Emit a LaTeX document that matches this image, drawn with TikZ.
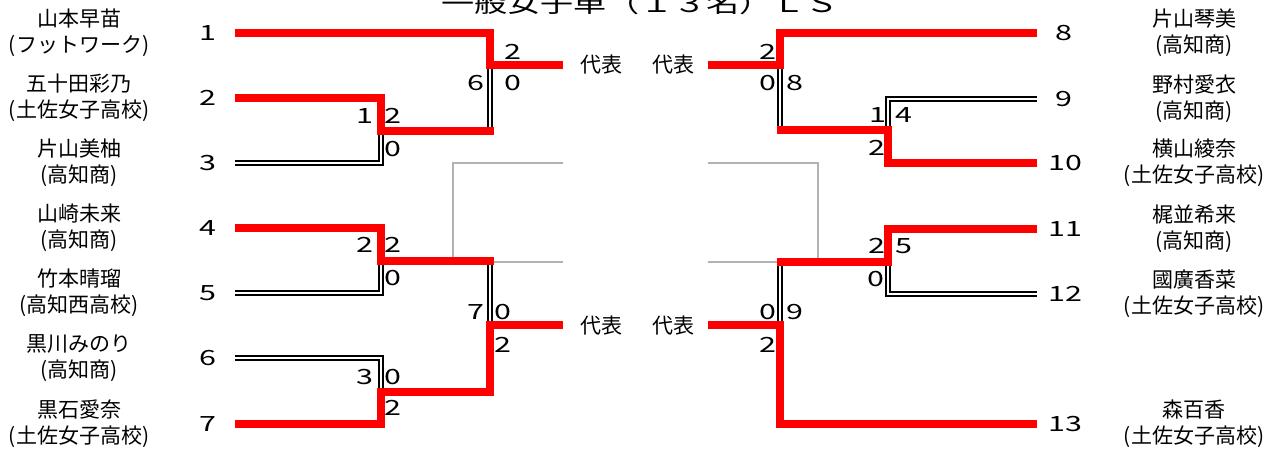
\documentclass[tikz,border=0pt]{standalone}
\usepackage{fontspec}
\setmainfont{Noto Sans CJK JP}
\newfontfamily\numfont[FakeStretch=1.45]{Noto Sans CJK JP}
\newfontfamily\headfont[FakeStretch=1.38]{Noto Sans CJK JP}
\usepackage{tikz}
\usetikzlibrary{positioning}
\newcommand{\namefont}{\fontsize{21}{26}\selectfont}
\newcommand{\scorefont}{\numfont\fontsize{21}{21}\selectfont}
\newcommand{\titlefont}{\headfont\fontsize{24}{24}\selectfont}
\tikzset{
  bk/title/.style={font=\titlefont, inner sep=0pt},
  bk/name/.style={font=\namefont, align=center, inner sep=0pt},
  bk/seed/.style={font=\scorefont, inner sep=0pt},
  bk/score/.style={font=\scorefont, inner sep=0pt},
  bk/rep/.style={font=\namefont, inner sep=0pt},
  bk/win/.style={draw=red, line width=7.5pt, line join=miter},
  bk/lose/.style={draw=black, double=white, line width=2pt, double distance=2.2pt},
  bk/guide/.style={draw=black!30, line width=1.2pt}
}

\begin{document}
\begin{tikzpicture}[x=1pt, y=-1pt]
\fill[white] (0,0) rectangle (1276,453);
\useasboundingbox (0,0) rectangle (1276,453);
\clip (0,0) rectangle (1276,453);

\node[bk/title, anchor=base] (title) at (640,12) {一般女子単（１３名）ＬＳ};

% left names
\node[bk/name] (name1) at (79,33) {山本早苗\\(フットワーク)};
\node[bk/name] (name2) at (79,98) {五十田彩乃\\(土佐女子高校)};
\node[bk/name] (name3) at (79,163) {片山美柚\\(高知商)};
\node[bk/name] (name4) at (79,228) {山崎未来\\(高知商)};
\node[bk/name] (name5) at (79,293) {竹本晴瑠\\(高知西高校)};
\node[bk/name] (name6) at (79,358) {黒川みのり\\(高知商)};
\node[bk/name] (name7) at (79,424) {黒石愛奈\\(土佐女子高校)};
% right names
\node[bk/name] (name8) at (1194,33) {片山琴美\\(高知商)};
\node[bk/name] (name9) at (1194,99) {野村愛衣\\(高知商)};
\node[bk/name] (name10) at (1194,163) {横山綾奈\\(土佐女子高校)};
\node[bk/name] (name11) at (1194,229) {梶並希来\\(高知商)};
\node[bk/name] (name12) at (1194,294) {國廣香菜\\(土佐女子高校)};
\node[bk/name] (name13) at (1194,424) {森百香\\(土佐女子高校)};

\node[bk/seed] (seed1) at (208,33) {1};
\node[bk/seed] (seed2) at (208,98) {2};
\node[bk/seed] (seed3) at (208,163) {3};
\node[bk/seed] (seed4) at (208,228) {4};
\node[bk/seed] (seed5) at (208,293) {5};
\node[bk/seed] (seed6) at (208,358) {6};
\node[bk/seed] (seed7) at (208,424) {7};
\node[bk/seed] (seed8) at (1064,33) {8};
\node[bk/seed] (seed9) at (1064,99) {9};
\node[bk/seed] (seed10) at (1065,163) {10};
\node[bk/seed] (seed11) at (1065,229) {11};
\node[bk/seed] (seed12) at (1065,294) {12};
\node[bk/seed] (seed13) at (1065,424) {13};

\node[bk/rep] (repL1) at (601,65) {代表};
\node[bk/rep] (repL2) at (601,326) {代表};
\node[bk/rep] (repR1) at (673,65) {代表};
\node[bk/rep] (repR2) at (673,326) {代表};

\coordinate (a1) at (235,33);
\coordinate (a2) at (235,98);
\coordinate (a3) at (235,163);
\coordinate (a4) at (235,228);
\coordinate (a5) at (235,293);
\coordinate (a6) at (235,358);
\coordinate (a7) at (235,424);
\coordinate (a8) at (1037,33);
\coordinate (a9) at (1037,99);
\coordinate (a10) at (1037,163);
\coordinate (a11) at (1037,229);
\coordinate (a12) at (1037,294);
\coordinate (a13) at (1037,424);
\coordinate (m1) at (381,131);
\coordinate (m2) at (381,261);
\coordinate (m3) at (381,392);
\coordinate (m6) at (490,65);
\coordinate (m7) at (490,325);
\coordinate (m4) at (888,130);
\coordinate (m5) at (888,262);
\coordinate (m8) at (780,65);
\coordinate (m9) at (780,325);
\coordinate (outL1) at (563,65);
\coordinate (outL2) at (563,325);
\coordinate (outR1) at (708,65);
\coordinate (outR2) at (708,325);

\draw[bk/guide] (563,163) -- (453,163) -- (453,262) -- (563,262);
\draw[bk/guide] (708,163) -- (818,163) -- (818,262) -- (708,262);

\draw[bk/lose] (a3) -| (m1);
\draw[bk/lose] (a5) -| (m2);
\draw[bk/lose] (a6) -| (m3);
\draw[bk/lose] (m1 -| m6) -- (m6);
\draw[bk/lose] (m2 -| m7) -- (m7);
\draw[bk/lose] (a9) -| (m4);
\draw[bk/lose] (a12) -| (m5);
\draw[bk/lose] (m4 -| m8) -- (m8);
\draw[bk/lose] (m5 -| m9) -- (m9);

\draw[bk/win, shorten >=-3.5pt] (a2) -| (m1) -- (m1 -| m6);
\draw[bk/win, shorten >=-3.5pt] (a4) -| (m2) -- (m2 -| m7);
\draw[bk/win] (a1) -| (m6) -- (outL1);
\draw[bk/win] (a7) -| (m3) -- (m3 -| m7) -- (m7) -- (outL2);
\draw[bk/win, shorten >=-3.5pt] (a10) -| (m4) -- (m4 -| m8);
\draw[bk/win, shorten >=-3.5pt] (a11) -| (m5) -- (m5 -| m9);
\draw[bk/win] (a8) -| (m8) -- (outR1);
\draw[bk/win] (a13) -| (m9) -- (outR2);

% match numbers and scores
\node[bk/score] (no1) at (365,116) {1};
\node[bk/score] (up1) at (393,116) {2};
\node[bk/score] (dn1) at (393,149) {0};
\node[bk/score] (no2) at (365,245) {2};
\node[bk/score] (up2) at (393,245) {2};
\node[bk/score] (dn2) at (393,278) {0};
\node[bk/score] (no3) at (365,377) {3};
\node[bk/score] (up3) at (393,377) {0};
\node[bk/score] (dn3) at (393,408) {2};
\node[bk/score] (no6) at (476,83) {6};
\node[bk/score] (up6) at (513,52) {2};
\node[bk/score] (dn6) at (513,83) {0};
\node[bk/score] (no7) at (476,312) {7};
\node[bk/score] (up7) at (503,312) {0};
\node[bk/score] (dn7) at (503,345) {2};
\node[bk/score] (no4) at (904,115) {4};
\node[bk/score] (up4) at (878,115) {1};
\node[bk/score] (dn4) at (877,148) {2};
\node[bk/score] (no5) at (904,246) {5};
\node[bk/score] (up5) at (877,246) {2};
\node[bk/score] (dn5) at (876,279) {0};
\node[bk/score] (no8) at (795,83) {8};
\node[bk/score] (up8) at (768,52) {2};
\node[bk/score] (dn8) at (768,83) {0};
\node[bk/score] (no9) at (795,312) {9};
\node[bk/score] (up9) at (768,312) {0};
\node[bk/score] (dn9) at (768,345) {2};
\end{tikzpicture}
\end{document}
